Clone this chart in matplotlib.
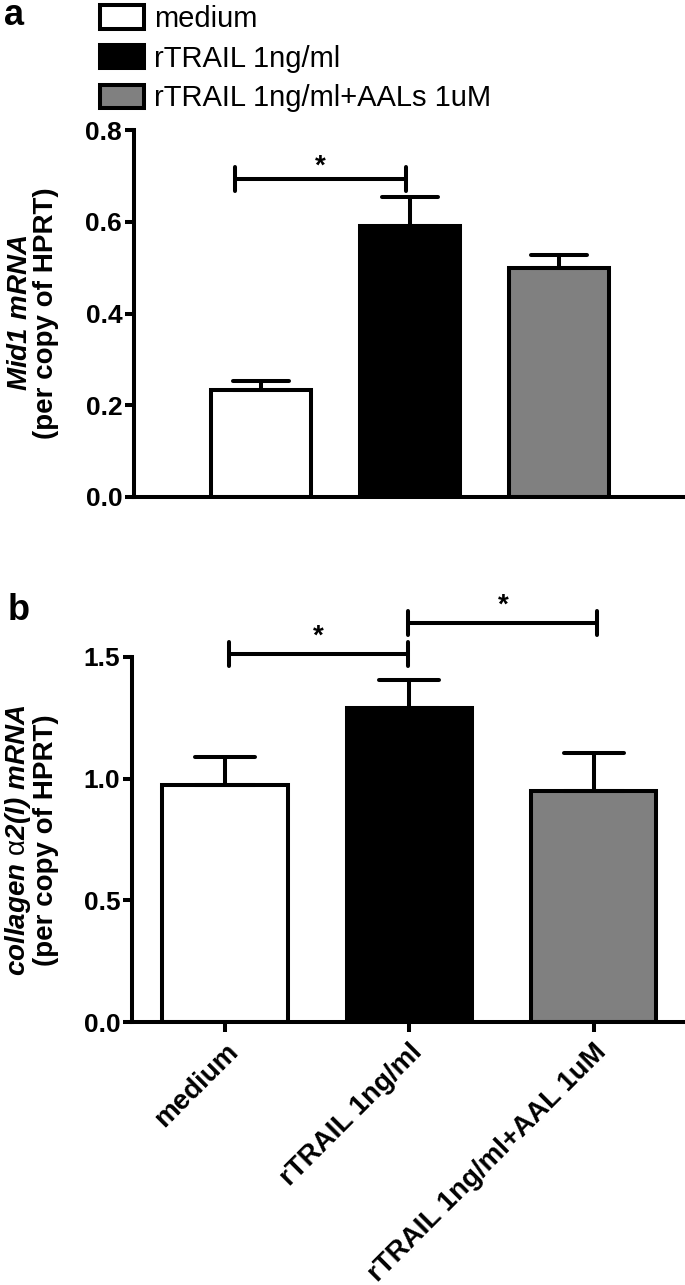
import matplotlib
matplotlib.use("Agg")
import matplotlib.pyplot as plt
from matplotlib.markers import MarkerStyle
import numpy as np

# values
groups_a = ["medium", "rTRAIL 1ng/ml", "rTRAIL 1ng/ml+AALs 1uM"]
mid1_mean = [0.233, 0.591, 0.500]
mid1_sem = [0.020, 0.062, 0.028]
yticks_a = [0.0, 0.2, 0.4, 0.6, 0.8]
sig_a = [(-0.17, 0.97, 0.693)]

groups_b = ["medium", "rTRAIL 1ng/ml", "rTRAIL 1ng/ml+AAL 1uM"]
col_mean = [0.974, 1.289, 0.951]
col_sem = [0.116, 0.116, 0.153]
yticks_b = [0.0, 0.5, 1.0, 1.5]
sig_b = [(0.02, 0.995, 1.512), (0.995, 2.02, 1.640)]

bar_colors = ["white", "black", "#808080"]

plt.rcParams["font.family"] = ["Liberation Sans", "DejaVu Sans"]
# math text only used for the italic y labels; digits/brackets fall back to rm
plt.rcParams["mathtext.fontset"] = "custom"
plt.rcParams["mathtext.it"] = "Liberation Sans:italic:bold"
plt.rcParams["mathtext.rm"] = "Liberation Sans:italic:bold"
plt.rcParams["mathtext.sf"] = "Liberation Sans"

W, H = 685, 1285
LW = 2.9


def px_box(left, top, right, bottom):
    return [left / W, 1 - bottom / H, (right - left) / W, (bottom - top) / H]


def style_axis(ax, ticks, xtick_len):
    for s in ["top", "right"]:
        ax.spines[s].set_visible(False)
    for s in ["left", "bottom"]:
        ax.spines[s].set_linewidth(LW)
    ax.set_yticks(ticks)
    ax.set_yticklabels([f"{t:.1f}" for t in ticks], fontsize=19, fontweight="bold")
    ax.tick_params(axis="y", length=6.5, width=LW, pad=2)
    ax.tick_params(axis="x", length=xtick_len, width=LW)


def draw_bars(ax, mean, sem, width, capsize):
    x = np.arange(len(mean))
    bars = ax.bar(x, mean, width=width, color=bar_colors, edgecolor="black",
                  linewidth=LW, zorder=2)
    eb = ax.errorbar(x, mean, yerr=[np.zeros(len(sem)), sem], fmt="none",
                     ecolor="black", elinewidth=LW, capsize=capsize,
                     capthick=LW, zorder=3)
    for cl in eb.lines[1]:
        cl.set_marker(MarkerStyle("_", capstyle="round"))
    return bars


def draw_sig(ax, sigs, tick_h, star_off):
    for x0, x1, y in sigs:
        ax.plot([x0, x1], [y, y], color="black", lw=LW, solid_capstyle="round",
                clip_on=False, zorder=4)
        for xx in (x0, x1):
            ax.plot([xx, xx], [y - tick_h, y + tick_h], color="black", lw=LW,
                    solid_capstyle="round", clip_on=False, zorder=4)
        ax.text((x0 + x1) / 2, y + star_off, "*", ha="center", va="center",
                fontsize=20, fontweight="bold", clip_on=False)


fig = plt.figure(figsize=(W / 100, H / 100), dpi=100)

# panel a
ax_a = fig.add_axes(px_box(134, 130, 683, 497))
bars_a = draw_bars(ax_a, mid1_mean, mid1_sem, 0.67, 20)
ax_a.set_xlim(-0.85, 2.83)
ax_a.set_ylim(0, 0.8)
style_axis(ax_a, yticks_a, 0)
ax_a.set_xticks([])
draw_sig(ax_a, sig_a, 0.026, 0.027)

fig.legend(bars_a.patches, groups_a, loc="upper left",
           bbox_to_anchor=(100 / W, 1 - 5 / H), frameon=False, fontsize=21,
           handlelength=1.5, handleheight=0.85, handletextpad=0.35,
           labelspacing=0.4, borderpad=0, borderaxespad=0)

fig.text(33 / W, 1 - 313 / H, "$\\mathit{Mid1\\ mRNA}$\n(per copy of HPRT)",
         rotation=90, ha="center", va="center", multialignment="center",
         fontsize=20, fontweight="bold", linespacing=1.0)
fig.text(4 / W, 1 - 25 / H, "a", fontsize=26, fontweight="bold", va="baseline")

# panel b
ax_b = fig.add_axes(px_box(132, 657, 684, 1022))
draw_bars(ax_b, col_mean, col_sem, 0.68, 21.6)
ax_b.set_xlim(-0.505, 2.49)
ax_b.set_ylim(0, 1.5)
style_axis(ax_b, yticks_b, 7)
ax_b.set_xticks(np.arange(len(groups_b)))
ax_b.set_xticklabels(groups_b, rotation=45, ha="right", va="top",
                     rotation_mode="anchor", fontsize=20, fontweight="bold")
ax_b.tick_params(axis="x", pad=5)
draw_sig(ax_b, sig_b, 0.049, 0.072)

fig.text(31 / W, 1 - 840 / H,
         "$\\mathit{collagen}\\ \\mathsf{\\alpha}\\mathit{2(I)\\ mRNA}$\n(per copy of HPRT)",
         rotation=90, ha="center", va="center", multialignment="center",
         fontsize=20, fontweight="bold", linespacing=1.0)
fig.text(8 / W, 1 - 620 / H, "b", fontsize=26, fontweight="bold", va="baseline")

fig.savefig("out.png", dpi=100)
